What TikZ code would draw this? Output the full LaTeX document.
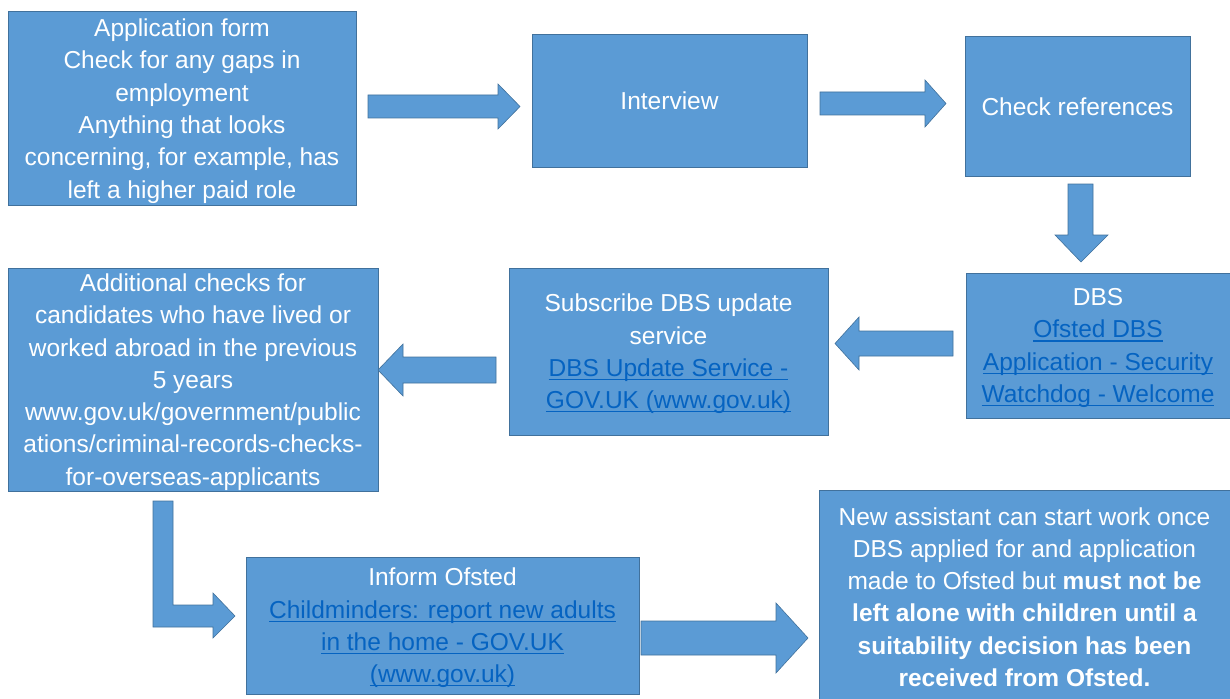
\documentclass[tikz,border=0pt]{standalone}
\usepackage{fontspec}
\setmainfont{Liberation Sans}

\definecolor{boxfill}{HTML}{5B9BD5}
\definecolor{boxline}{HTML}{41719C}
\definecolor{linkblue}{HTML}{0563C1}
\newcommand{\lnk}[1]{{\color{linkblue}\setbox0\hbox{#1}\rlap{\rule[-3.6pt]{\wd0}{1.3pt}}\box0}}

\begin{document}
\begin{tikzpicture}[x=1pt, y=-1pt,
    stepbox/.style={draw=boxline, fill=boxfill, line width=1pt, text=white,
        align=center, inner sep=0pt, font=\fontsize{24.5}{32.3}\selectfont},
    lowtext/.style={text depth=-1pt},
    blockarr/.style={draw=boxline, fill=boxfill, line width=0.6pt, line join=miter}]
    
    \useasboundingbox (0,0) rectangle (1230,698);
    
    % top row
    \node[stepbox, lowtext, minimum width=348, minimum height=193] (app) at (182,108.5)
        {Application form\\Check for any gaps in\\employment\\Anything that looks\\concerning, for example, has\\left a higher paid role};
    \node[stepbox, text depth=-2pt, minimum width=275, minimum height=132] (interview) at (669.5,101) {Interview};
    \node[stepbox, text depth=-2pt, minimum width=225, minimum height=139] (refs) at (1077.5,106.5) {Check references};
    
    % middle row
    \node[stepbox, lowtext, minimum width=264, minimum height=145] (dbs) at (1098,345.5)
        {DBS\\\lnk{Ofsted DBS}\\\lnk{Application - Security}\\\lnk{Watchdog - Welcome}};
    \node[stepbox, lowtext, minimum width=319, minimum height=167] (update) at (668.5,351.5)
        {Subscribe DBS update\\service\\\lnk{DBS Update Service -}\\\lnk{GOV.UK (www.gov.uk)}};
    \node[stepbox, lowtext, minimum width=370, minimum height=223] (abroad) at (193,379.5)
        {Additional checks for\\candidates who have lived or\\worked abroad in the previous\\5 years\\www.gov.uk/government/public\\ations/criminal-records-checks-\\for-overseas-applicants};
    
    % bottom row
    \node[stepbox, lowtext, minimum width=393, minimum height=137] (ofsted) at (442.5,625.5)
        {Inform Ofsted\\\lnk{Childminders: report new adults}\\\lnk{in the home - GOV.UK}\\\lnk{(www.gov.uk)}};
    \node[stepbox, minimum width=411, minimum height=214] (start) at (1024.5,597)
        {New assistant can start work once\\DBS applied for and application\\made to Ofsted but \textbf{must not be}\\\textbf{left alone with children until a}\\\textbf{suitability decision has been}\\\textbf{received from Ofsted.}};
    
    % block arrows
    \draw[blockarr] (368,95) -- (498,95) -- (498,84) -- (520,106.5) -- (498,129) -- (498,118) -- (368,118) -- cycle;
    \draw[blockarr] (820,92) -- (925,92) -- (925,80) -- (946,103.5) -- (925,127) -- (925,115) -- (820,115) -- cycle;
    \draw[blockarr] (1068,184) -- (1093,184) -- (1093,235) -- (1108,235) -- (1081,262) -- (1055,235) -- (1068,235) -- cycle;
    \draw[blockarr] (953,331) -- (859,331) -- (859,317) -- (835,343.5) -- (859,370) -- (859,356) -- (953,356) -- cycle;
    \draw[blockarr] (496,357) -- (403,357) -- (403,344) -- (378,370) -- (403,396) -- (403,383) -- (496,383) -- cycle;
    \draw[blockarr] (153,501) -- (173,501) -- (173,605) -- (213,605) -- (213,593) -- (235,616) -- (213,638) -- (213,627) -- (153,627) -- cycle;
    \draw[blockarr] (641,621) -- (776,621) -- (776,603) -- (808,638) -- (776,673) -- (776,655) -- (641,655) -- cycle;
    
\end{tikzpicture}
\end{document}
